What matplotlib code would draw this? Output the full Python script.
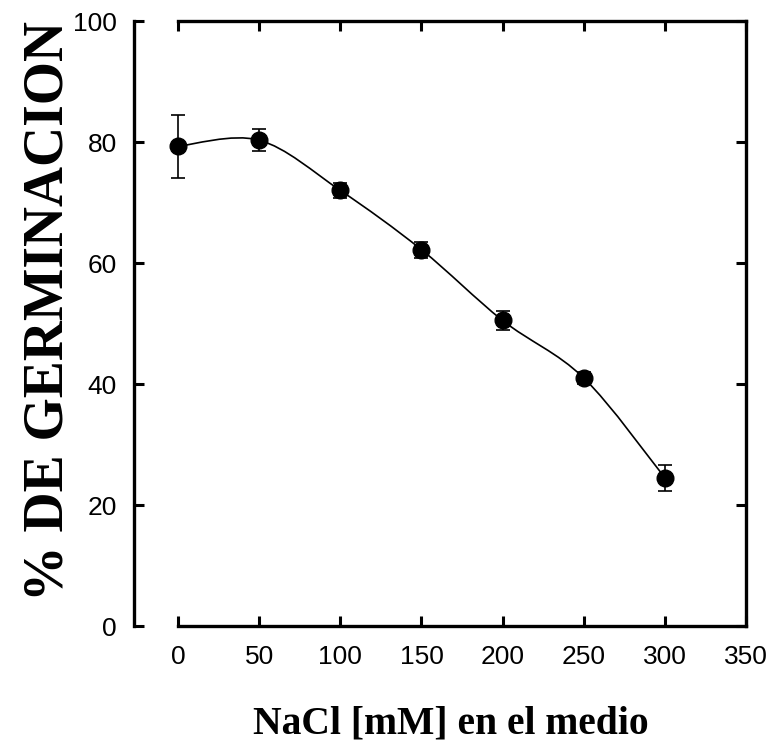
import numpy as np
import matplotlib.pyplot as plt
from matplotlib.path import Path
from matplotlib.patches import PathPatch

# NaCl concentration (mM) and germination percentage
nacl = [0, 50, 100, 150, 200, 250, 300]
germ = [79.3, 80.3, 72.0, 62.2, 50.5, 41.0, 24.5]
err = [5.2, 1.8, 1.3, 1.3, 1.5, 1.0, 2.1]

xticks = [0, 50, 100, 150, 200, 250, 300, 350]
yticks = [0, 20, 40, 60, 80, 100]

fig = plt.figure(figsize=(7.74, 7.45), dpi=100)
ax = fig.add_axes([0.2300, 0.1597, 0.7339, 0.8121])

# smooth curve through the points (catmull-rom drawn as cubic bezier segments)
pts = np.column_stack([nacl, germ])
ext = np.vstack([pts[0], pts, pts[-1]])
verts = [tuple(pts[0])]
codes = [Path.MOVETO]
for i in range(1, len(ext) - 2):
    p0, p1, p2, p3 = ext[i - 1], ext[i], ext[i + 1], ext[i + 2]
    c1 = p1 + (p2 - p0) / 6
    c2 = p2 - (p3 - p1) / 6
    verts += [tuple(c1), tuple(c2), tuple(p2)]
    codes += [Path.CURVE4] * 3
ax.add_patch(PathPatch(Path(verts, codes), facecolor='none', edgecolor='black',
                       lw=1.2, zorder=2, clip_on=False))

eb = ax.errorbar(nacl, germ, yerr=err, fmt='o', color='black', ms=12,
                 elinewidth=1.2, capsize=5, capthick=1.2, zorder=3)
for art in eb.lines[0:1] + tuple(eb.lines[1]) + tuple(eb.lines[2]):
    art.set_clip_on(False)

ax.set_xlim(0, 350)
ax.set_ylim(0, 100)
ax.set_xticks(xticks)
ax.set_yticks(yticks)

for s in ax.spines.values():
    s.set_linewidth(2.4)
ax.spines['left'].set_position(('outward', 32))

ax.tick_params(direction='in', length=7, width=2.2, top=True, right=True,
               labelsize=19, pad=14)
ax.tick_params(axis='y', pad=12)
for lab in ax.get_xticklabels() + ax.get_yticklabels():
    lab.set_fontfamily('Liberation Sans')

ax.set_ylabel('% DE GERMINACION', fontsize=40, fontweight='bold',
              fontfamily='Liberation Serif')
ax.yaxis.set_label_coords(-0.183, 0.52)
ax.set_xlabel('NaCl [mM] en el medio', fontsize=28.5, fontweight='bold',
              fontfamily='Liberation Serif')
ax.xaxis.set_label_coords(0.48, -0.131)

fig.savefig('out.png', dpi=100)
